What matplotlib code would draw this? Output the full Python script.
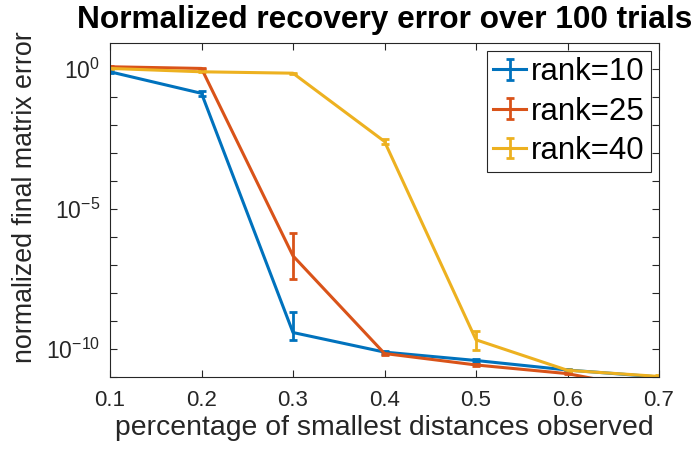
import numpy as np
import matplotlib
matplotlib.use("Agg")
import matplotlib.pyplot as plt
from matplotlib.ticker import FixedLocator, FuncFormatter, NullLocator
from matplotlib.container import ErrorbarContainer
from matplotlib.legend_handler import HandlerErrorbar

plt.rcParams['font.family'] = ['Liberation Sans', 'DejaVu Sans']
plt.rcParams['mathtext.fontset'] = 'custom'
plt.rcParams['mathtext.rm'] = 'Liberation Sans'
plt.rcParams['mathtext.it'] = 'Liberation Sans:italic'
plt.rcParams['mathtext.bf'] = 'Liberation Sans:bold'

# ---- data (log10 of normalized error, with error bar extents in decades) ----
x = [0.1, 0.2, 0.3, 0.4, 0.5, 0.6, 0.7]
labels = ["rank=10", "rank=25", "rank=40"]

r10_log = [-0.09, -0.86, -9.41, -10.11, -10.41, -10.75, -11.0]
r10_lo = [0.03, 0.08, 0.28, 0.05, 0.04, 0.04, 0.04]
r10_hi = [0.03, 0.08, 0.74, 0.05, 0.04, 0.04, 0.04]

r25_log = [0.09, 0.03, -6.67, -10.16, -10.57, -10.88, -11.5]
r25_lo = [0.02, 0.03, 0.82, 0.04, 0.03, 0.03, 0.03]
r25_hi = [0.02, 0.03, 0.81, 0.04, 0.03, 0.03, 0.03]

r40_log = [0.03, -0.09, -0.14, -2.58, -9.67, -10.76, -10.98]
r40_lo = [0.02, 0.02, 0.02, 0.08, 0.38, 0.06, 0.04]
r40_hi = [0.02, 0.02, 0.02, 0.08, 0.30, 0.06, 0.04]

colors = ["#0072BD", "#D95319", "#EDB120"]

fig = plt.figure(figsize=(6.99, 4.5), dpi=100)
ax = fig.add_axes([110/699, 1-377/450, 549/699, (377-42.7)/450])

series = [(r10_log, r10_lo, r10_hi), (r25_log, r25_lo, r25_hi), (r40_log, r40_lo, r40_hi)]
for (lg, lo, hi), c, lab in zip(series, colors, labels):
    lg = np.array(lg); lo = np.array(lo); hi = np.array(hi)
    y = 10.0 ** lg
    yerr = [y - 10.0 ** (lg - lo), 10.0 ** (lg + hi) - y]
    ax.errorbar(x, y, yerr=yerr, color=c, lw=2.2, elinewidth=2.0, capsize=3,
                capthick=2.0, label=lab)

ax.set_yscale('log')
ax.set_xlim(0.1, 0.7)
ax.set_ylim(1e-11, 10 ** 0.95)
ax.set_xticks(x)
ax.set_xticklabels([f"{v:.1f}" for v in x])
ax.yaxis.set_major_locator(FixedLocator([10.0 ** k for k in range(-11, 1)]))
ax.yaxis.set_minor_locator(NullLocator())

def fmt(v, pos):
    k = int(round(np.log10(v)))
    if k % 5 == 0:
        return r"$\mathregular{10^{%d}}$" % k
    return ""
ax.yaxis.set_major_formatter(FuncFormatter(fmt))

ax.tick_params(direction='in', top=True, right=True, length=5, width=0.8,
               labelsize=16, colors='#262626')
ax.tick_params(axis='x', pad=9)
ax.tick_params(axis='y', pad=7, labelsize=16.5)
for s in ax.spines.values():
    s.set_color('#262626')
    s.set_linewidth(0.8)

ax.set_title("Normalized recovery error over 100 trials", fontsize=22.8,
             fontweight='bold', pad=10.5)
ax.set_xlabel("percentage of smallest distances observed", fontsize=20.4,
              color='#262626', labelpad=3)
ax.set_ylabel("normalized final matrix error", fontsize=19.3, color='#262626')
ax.yaxis.set_label_coords(-0.131, 0.538)

leg = ax.legend(loc='upper right', bbox_to_anchor=(0.9854, 0.975), borderaxespad=0,
                fontsize=22.5, fancybox=False, edgecolor='#262626', framealpha=1,
                handlelength=1.05, handletextpad=0.15, borderpad=0.2, labelspacing=0.3,
                handler_map={ErrorbarContainer: HandlerErrorbar(xerr_size=0.3, yerr_size=0.33)})
leg.get_frame().set_linewidth(0.8)

fig.savefig("out.png", dpi=100)
